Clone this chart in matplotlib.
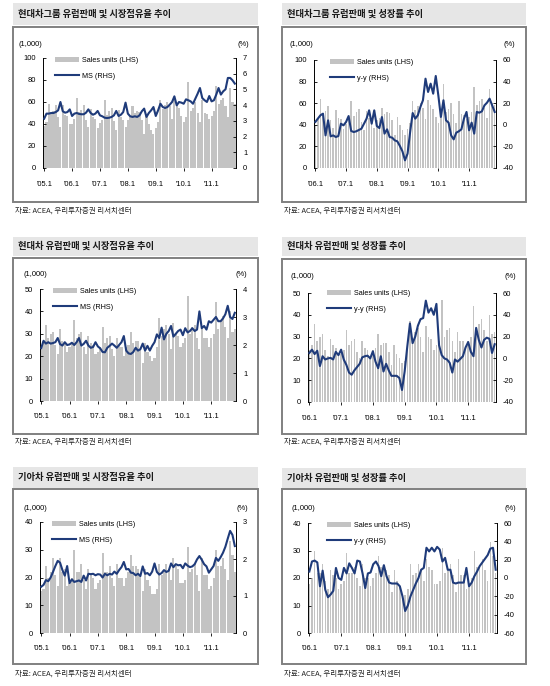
import matplotlib
matplotlib.use("Agg")
import matplotlib.pyplot as plt
from matplotlib.patches import Rectangle, Patch
from matplotlib.lines import Line2D
import numpy as np

plt.rcParams['font.family'] = ['Liberation Sans', 'Noto Sans CJK KR']
plt.rcParams['axes.unicode_minus'] = False

# Hyundai group: monthly Europe sales (1,000 units), 2005.1 - 2011.11
hg_sales = [38, 42, 58, 50, 52, 57, 46, 37, 57, 48, 47, 40,
            40, 45, 64, 51, 53, 57, 44, 37, 54, 46, 45, 36,
            41, 44, 62, 48, 52, 55, 43, 35, 53, 46, 44, 37,
            44, 46, 56, 50, 52, 51, 44, 31, 47, 40, 35, 31,
            36, 42, 62, 54, 57, 60, 56, 45, 63, 58, 55, 47,
            42, 46, 78, 52, 55, 60, 50, 42, 62, 50, 49, 45,
            47, 52, 75, 58, 62, 64, 56, 46, 73, 60, 58]
# Hyundai group market share (%)
hg_ms = [3.14, 3.46, 3.46, 3.50, 3.50, 3.56, 3.67, 4.20, 3.61, 3.52, 3.56, 3.73,
         3.31, 3.46, 3.50, 3.44, 3.42, 3.42, 3.52, 3.73, 3.50, 3.39, 3.46, 3.63,
         3.35, 3.29, 3.20, 3.18, 3.20, 3.25, 3.35, 3.63, 3.31, 3.39, 3.56, 4.16,
         3.46, 3.29, 3.25, 3.29, 3.25, 3.35, 3.61, 3.78, 3.25, 3.50, 3.67, 3.88,
         3.31, 3.67, 4.09, 3.88, 3.82, 3.88, 4.03, 4.20, 4.56, 3.99, 4.20, 4.16,
         4.09, 4.37, 4.31, 4.24, 4.09, 4.41, 4.73, 5.09, 4.45, 4.31, 4.20, 4.58,
         4.24, 4.31, 4.67, 5.09, 4.67, 4.88, 5.01, 5.73, 5.73, 5.58, 5.37]
# Hyundai group y-y growth (%), 2006.1 - 2011.11
hg_yy = [2.6, 5.7, 8.8, 10.3, -9.8, 4.1, -10.7, -9.8, -11.3, -10.4, 1.0, -0.5,
         2.6, 8.1, -5.7, -6.7, -6.0, -4.8, -3.6, 1.0, 5.7, 13.4, 1.0, 13.4,
         -1.1, -3.0, 7.2, -8.2, -4.2, -11.3, -11.9, -14.4, -15.3, -19.6, -24.6, -32.9,
         -26.7, -6.7, 10.9, 5.7, 8.8, 16.5, 22.7, 42.7, 30.4, 38.1, 28.8, 45.2,
         27.3, 7.2, 22.7, 4.1, 2.0, -9.8, -13.5, -7.3, -6.0, -4.2, 5.7, 11.9,
         -5.1, 2.0, -8.2, 11.9, 11.2, 12.5, 18.0, 20.5, 24.2, 18.0, 11.9]

# Hyundai Motor
hm_sales = [23, 27, 34, 28, 30, 31, 25, 21, 32, 27, 26, 22,
            24, 26, 36, 28, 30, 31, 24, 21, 29, 26, 25, 21,
            22, 24, 33, 26, 28, 29, 23, 20, 28, 25, 24, 20,
            24, 25, 31, 26, 27, 27, 23, 17, 26, 22, 20, 18,
            19, 24, 37, 29, 32, 34, 30, 23, 35, 30, 29, 24,
            26, 28, 47, 30, 33, 34, 28, 23, 32, 28, 28, 24,
            28, 30, 44, 32, 36, 38, 33, 28, 40, 31, 32]
hm_ms = [1.89, 2.15, 2.05, 2.10, 2.05, 2.07, 2.10, 2.25, 2.03, 1.98, 2.10, 2.00,
         2.02, 2.08, 2.00, 2.10, 2.25, 1.98, 2.04, 2.15, 1.98, 1.90, 1.93, 2.10,
         1.95, 1.88, 1.75, 1.74, 1.90, 1.97, 2.05, 1.98, 1.90, 2.00, 2.10, 2.32,
         1.80, 1.70, 1.68, 1.75, 1.90, 1.80, 1.85, 2.05, 1.80, 1.97, 1.80, 1.97,
         2.10, 2.38, 2.25, 2.62, 2.20, 2.40, 2.50, 2.68, 2.30, 2.40, 2.50, 2.55,
         2.35, 2.60, 2.45, 2.50, 2.60, 2.50, 2.55, 3.20, 2.60, 2.68, 2.55, 2.85,
         2.80, 2.90, 3.00, 2.85, 2.85, 2.95, 3.10, 3.40, 3.00, 2.93, 3.15]
hm_yy = [5, 8, 4, 7, -7, 2, -1, 0, 0.5, -1, 6, 3,
         8, -1, -6, -13, -15, -11, -8, -5, 1, 2, 2.5, 0,
         6.5, -3, -9, 2, -12, -5, -11, -16, -16, -16, -18, -29,
         -12, 11, 32, 14, 20, 30, 36, 37, 53, 42, 46, 40,
         50, 12, 3, 0, -1, -4, -13, -1, -3, -0.5, 2, 10,
         15, 6, 2, 28, 17, 10, 17, 19, 18, 5, 13]

# Kia Motors
kia_sales = [15, 16, 24, 20, 22, 27, 21, 17, 27, 22, 23, 17,
             18, 20, 30, 22, 22, 25, 19, 16, 23, 21, 20, 16,
             18, 19, 29, 22, 22, 24, 20, 17, 25, 20, 20, 17,
             20, 22, 28, 24, 24, 23, 21, 15, 23, 19, 17, 14,
             14, 16, 25, 21, 22, 25, 23, 19, 27, 24, 23, 18,
             18, 19, 31, 22, 23, 25, 21, 15, 27, 21, 21, 16,
             17, 20, 30, 24, 24, 27, 23, 19, 33, 28, 22]
kia_ms = [1.25, 1.30, 1.43, 1.40, 1.50, 1.65, 1.81, 1.95, 1.90, 1.70, 1.55, 1.81,
          1.35, 1.45, 1.38, 1.40, 1.42, 1.38, 1.55, 1.42, 1.60, 1.59, 1.60, 1.56,
          1.59, 1.58, 1.50, 1.60, 1.56, 1.60, 1.58, 1.66, 1.60, 1.70, 1.78, 1.92,
          1.72, 1.73, 1.63, 1.62, 1.56, 1.60, 1.54, 1.80, 1.60, 1.62, 1.56, 1.66,
          1.88, 1.65, 1.58, 1.62, 1.70, 1.65, 1.68, 1.88, 1.78, 1.86, 1.83, 1.84,
          1.75, 1.88, 1.82, 1.78, 1.80, 1.86, 1.99, 2.08, 1.98, 1.86, 1.80, 1.63,
          1.72, 1.81, 2.03, 1.95, 2.05, 2.17, 2.33, 2.55, 2.76, 2.65, 2.35]
kia_yy = [7, 18, 19, 17, -9, 8, -13, -21, -18, -14, 11, 0,
          -2, 11, 5, 16, 11, 5, 19, 18, 5, -11, 5, 6,
          15, 18, 13, 2, 14, 2, -5, -6, -6, -6, -9, -20,
          -36, -30, -20, -13, -6, 0, 9, 11, 33, 29, 33, 29,
          34, 31, 18, 22, 9, 9, -5, -6, -5, -5, -5, 11,
          -9, -5, 2, 7, 13, 17, 21, 25, 32, 33, 9]

titles = ["현대차그룹 유럽판매 및 시장점유율 추이", "현대차그룹 유럽판매 및 성장률 추이",
          "현대차 유럽판매 및 시장점유율 추이", "현대차 유럽판매 및 성장률 추이",
          "기아차 유럽판매 및 시장점유율 추이", "기아차 유럽판매 및 성장률 추이"]
source = "자료: ACEA, 우리투자증권 리서치센터"

W, H = 550, 686
BAR = '#c3c3c3'
LINE = '#1f3b7a'
KR = 'Noto Sans CJK KR'
FS = 5.4

fig = plt.figure(figsize=(5.5, 6.86), dpi=100)


def frame(x0, x1, ty, by, sy, title):
    # title strip, outer box and source line (pixel coordinates)
    fig.add_artist(Rectangle((x0 / W, 1 - ty[1] / H), (x1 - x0) / W, (ty[1] - ty[0]) / H,
                             transform=fig.transFigure, facecolor='#e6e6e6', edgecolor='none'))
    fig.text((x0 + 5) / W, 1 - (ty[0] + ty[1]) / 2 / H, title, family=KR, fontweight='bold',
             fontsize=6.7, va='center', ha='left', color='#1a1a1a')
    fig.add_artist(Rectangle((x0 / W, 1 - by[1] / H), (x1 - x0) / W, (by[1] - by[0]) / H,
                             transform=fig.transFigure, fill=False, edgecolor='#808080', linewidth=1.4))
    fig.text((x0 + 2) / W, 1 - sy / H, source, family=KR, fontsize=5.4, va='center', ha='left',
             color='#222222')


def chart(box, sales, line, line_label, first_year, ylim_l, step_l, ylim_r, step_r, bar_w,
          unit_x, unit_y, leg_xy):
    l, t, r, b = box
    ax = fig.add_axes([l / W, 1 - b / H, (r - l) / W, (b - t) / H])
    x = np.arange(len(sales))
    ax.bar(x, sales, width=bar_w, color=BAR, linewidth=0)
    ax.set_xlim(-0.5, len(sales) - 0.5)
    ax.set_ylim(*ylim_l)
    ax.set_yticks(np.arange(ylim_l[0], ylim_l[1] + 1, step_l))
    ticks = np.arange(0, len(sales), 12)
    ax.set_xticks(ticks)
    ax.set_xticklabels([f"'{(first_year + i) % 100:02d}.1" for i in range(len(ticks))])

    ax2 = ax.twinx()
    ax2.plot(x, line, color=LINE, lw=1.5)
    ax2.set_ylim(*ylim_r)
    ax2.set_yticks(np.arange(ylim_r[0], ylim_r[1] + 1, step_r))

    for a in (ax, ax2):
        a.spines['top'].set_visible(False)
        a.spines['bottom'].set_visible(False)
        a.patch.set_visible(False)
    ax.spines['right'].set_visible(False)
    ax2.spines['left'].set_visible(False)
    ax.spines['left'].set_linewidth(0.7)
    ax2.spines['right'].set_linewidth(0.7)
    ax.tick_params(axis='y', direction='in', length=2.5, width=0.6, labelsize=FS, pad=5)
    ax2.tick_params(axis='y', direction='in', length=2.5, width=0.6, labelsize=FS, pad=5)
    ax.tick_params(axis='x', direction='out', length=2, width=0.6, labelsize=FS, pad=7)

    fig.text(unit_x[0] / W, 1 - unit_y / H, "(1,000)", fontsize=FS, ha='center', va='center')
    fig.text(unit_x[1] / W, 1 - unit_y / H, "(%)", fontsize=FS, ha='center', va='center')

    handles = [Patch(facecolor=BAR, edgecolor='none'), Line2D([], [], color=LINE, lw=1.5)]
    ax2.legend(handles, ["Sales units (LHS)", line_label], loc='upper left',
               bbox_to_anchor=(leg_xy[0] / W, 1 - leg_xy[1] / H), bbox_transform=fig.transFigure,
               frameon=False, fontsize=5.2, handlelength=3.3, handletextpad=0.4, borderpad=0,
               borderaxespad=0, labelspacing=1.2)


# frames
frame(13, 258, (3, 25), (27, 202), 211, titles[0])
frame(282, 526, (3, 25), (27, 202), 211, titles[1])
frame(13, 258, (237, 256), (258, 434), 442, titles[2])
frame(282, 526, (237, 256), (259, 434), 442, titles[3])
frame(13, 258, (467, 488), (489, 664), 674, titles[4])
frame(282, 526, (468, 488), (489, 664), 674, titles[5])

chart((43, 58, 236, 168), hg_sales, hg_ms, "MS (RHS)", 2005, (0, 100), 20, (0, 7), 1, 0.9,
      (30, 243), 44, (55, 57))
chart((314, 60, 496, 168), hg_sales[12:], hg_yy, "y-y (RHS)", 2006, (0, 100), 20, (-40, 60), 20, 0.6,
      (301, 509), 44, (330, 59))
chart((40, 289, 236, 401), hm_sales, hm_ms, "MS (RHS)", 2005, (0, 50), 10, (0, 4), 1, 0.9,
      (35, 241), 275, (53, 288))
chart((308, 293, 496, 402), hm_sales[12:], hm_yy, "y-y (RHS)", 2006, (0, 50), 10, (-40, 60), 20, 0.6,
      (302, 510), 276, (327, 290))
chart((40, 522, 236, 633), kia_sales, kia_ms, "MS (RHS)", 2005, (0, 40), 10, (0, 3), 1, 0.9,
      (35, 242), 508, (52, 521))
chart((308, 523, 497, 633), kia_sales[12:], kia_yy, "y-y (RHS)", 2006, (0, 40), 10, (-60, 60), 20, 0.6,
      (303, 510), 508, (327, 522))

fig.savefig("out.png", dpi=100)
